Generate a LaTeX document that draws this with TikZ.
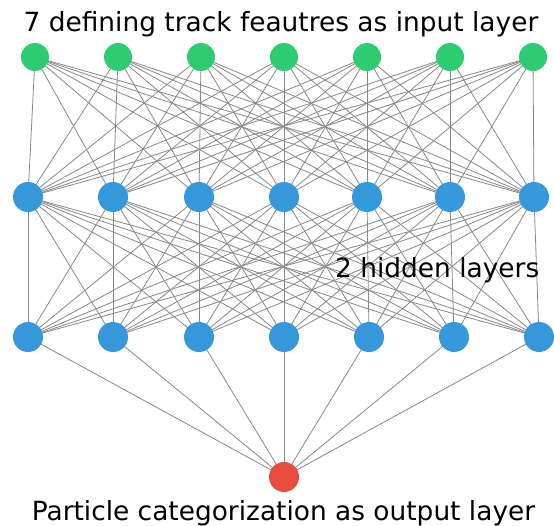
\documentclass[tikz,border=0pt]{standalone}
\usepackage{fontspec}
\setmainfont{DejaVu Sans}
\usetikzlibrary{backgrounds}
\definecolor{ingreen}{HTML}{2ECC71}
\definecolor{hidblue}{HTML}{3498DB}
\definecolor{outred}{HTML}{E74C3C}
\definecolor{edgegray}{HTML}{888888}
\tikzset{
  neuron/.style={circle, inner sep=0pt, minimum size=#1},
  inneuron/.style={neuron=28pt, fill=ingreen},
  hidneuron/.style={neuron=30pt, fill=hidblue},
  outneuron/.style={neuron=30pt, fill=outred},
  conn/.style={draw=edgegray, line width=0.8pt},
  lbl/.style={inner sep=0pt, font=\fontsize{26.4}{30}\selectfont}
}
\begin{document}
\begin{tikzpicture}[x=1pt,y=-1pt]
\useasboundingbox (0,0) rectangle (554,525);
% nodes
\foreach \x [count=\i] in {35,118,201,284,367,450,533}
  \node[inneuron] (i\i) at (\x,57) {};
\foreach \x [count=\i] in {28,113,199,284,367,450,534}
  \node[hidneuron] (a\i) at (\x,197) {};
\foreach \x [count=\i] in {28,113,199,284,369,454,539}
  \node[hidneuron] (b\i) at (\x,337) {};
\node[outneuron] (o) at (284,477) {};
% edges behind nodes
\begin{pgfonlayer}{background}
\foreach \i in {1,...,7}{
  \foreach \j in {1,...,7}{
    \draw[conn] (i\i.center) -- (a\j.center);
    \draw[conn] (a\i.center) -- (b\j.center);
  }
  \draw[conn] (b\i.center) -- (o.center);
}
\end{pgfonlayer}
% labels
\node[lbl, anchor=base] (tin) at (281,31) {7 defining track feautres as input layer};
\node[lbl, anchor=base west] (thid) at (335,277) {2 hidden layers};
\node[lbl, anchor=base] (tout) at (283.5,520) {Particle categorization as output layer};
\end{tikzpicture}
\end{document}
